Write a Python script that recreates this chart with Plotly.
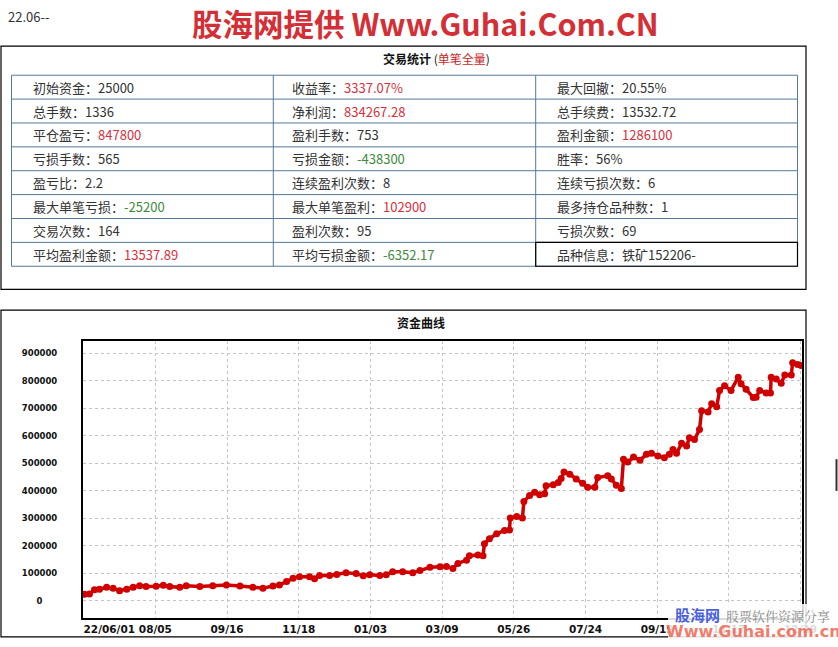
import plotly.graph_objects as go

# ---------------- data ----------------
header_text = "22.06--"
banner_text = "股海网提供 Www.Guhai.Com.CN"
table_title = "交易统计"
table_subtitle = "单笔全量"
chart_title = "资金曲线"

# statistic table: (label, value, tone)  tone: n = normal, r = red, g = green
stats_rows = [
    [("初始资金", "25000", "n"), ("收益率", "3337.07%", "r"), ("最大回撤", "20.55%", "n")],
    [("总手数", "1336", "n"), ("净利润", "834267.28", "r"), ("总手续费", "13532.72", "n")],
    [("平仓盈亏", "847800", "r"), ("盈利手数", "753", "n"), ("盈利金额", "1286100", "r")],
    [("亏损手数", "565", "n"), ("亏损金额", "-438300", "g"), ("胜率", "56%", "n")],
    [("盈亏比", "2.2", "n"), ("连续盈利次数", "8", "n"), ("连续亏损次数", "6", "n")],
    [("最大单笔亏损", "-25200", "g"), ("最大单笔盈利", "102900", "r"), ("最多持仓品种数", "1", "n")],
    [("交易次数", "164", "n"), ("盈利次数", "95", "n"), ("亏损次数", "69", "n")],
    [("平均盈利金额", "13537.89", "r"), ("平均亏损金额", "-6352.17", "g"), ("品种信息", "铁矿152206-", "n")],
]

# equity curve: bar index and equity value
bars = [1, 8, 15, 22, 32, 41, 50, 60, 69, 78, 87, 101, 111, 120, 134, 143, 162, 180, 199, 218,
        236, 250, 264, 273, 283, 292, 301, 315, 322, 329, 343, 353, 366, 380, 390, 399, 413, 422,
        431, 445, 459, 469, 483, 497, 506, 515, 522, 534, 538, 550, 557, 559, 566, 576, 587, 594,
        595, 604, 612, 614, 622, 629, 636, 643, 645, 655, 662, 666, 670, 678, 687, 696, 703, 713,
        717, 731, 736, 743, 750, 753, 759, 767, 776, 785, 792, 801, 810, 817, 822, 827, 834, 841,
        845, 852, 859, 862, 871, 876, 883, 887, 894, 903, 913, 917, 924, 934, 938, 943, 952, 958,
        959, 966, 973, 978, 987, 989, 996, 1001]
equity = [24000, 25000, 40000, 42000, 49000, 46000, 37000, 42000, 49000, 55000, 52000, 53000,
          57000, 52000, 49000, 55000, 52000, 55000, 58000, 54000, 49000, 46000, 54000, 58000,
          70000, 82000, 88000, 88000, 80000, 92000, 92000, 96000, 102000, 99000, 91000, 95000,
          92000, 95000, 106000, 106000, 102000, 110000, 122000, 124000, 125000, 118000, 136000,
          148000, 164000, 167000, 164000, 208000, 226000, 244000, 256000, 258000, 301000, 307000,
          301000, 361000, 383000, 395000, 386000, 390000, 419000, 422000, 431000, 445000, 469000,
          461000, 443000, 428000, 413000, 413000, 449000, 455000, 443000, 421000, 409000, 515000,
          505000, 523000, 512000, 533000, 537000, 527000, 521000, 533000, 551000, 537000, 573000,
          563000, 593000, 587000, 623000, 692000, 687000, 717000, 706000, 765000, 783000, 765000,
          814000, 790000, 770000, 740000, 741000, 765000, 756000, 756000, 814000, 807000, 792000,
          822000, 822000, 866000, 860000, 856000]

x_tick_vals = [0, 100, 200, 300, 400, 500, 600, 700, 800, 900, 1000]
x_tick_text = ["22/06/01", "08/05", "09/16", "11/18", "01/03", "03/09", "05/26", "07/24",
               "09/19", "11/17", "12/29"]
y_tick_vals = [0, 100000, 200000, 300000, 400000, 500000, 600000, 700000, 800000, 900000]
y_tick_text = ["0", "100000", "200000", "300000", "400000", "500000", "600000", "700000",
               "800000", "900000"]

# ---------------- layout geometry ----------------
W, H = 838, 647
PL, PR, PT, PB = 83, 802, 341, 620


def px(x):
    return (x - PL) / (PR - PL)


def py(y):
    return (PB - y) / (PB - PT)


RED = "#d6303e"
GREEN = "#3d8a3d"
CURVE = "#d00000"
CJK = "Noto Sans CJK SC"
NB = "\u00a0"

fig = go.Figure()
fig.add_trace(go.Scatter(
    x=bars, y=equity, mode="lines+markers",
    line=dict(color=CURVE, width=3.5),
    marker=dict(size=7, color=CURVE),
    hoverinfo="skip", showlegend=False,
))

ticktext_x = [("<b>" + (NB * 14 + t if i == 0 else t) + "</b>") for i, t in enumerate(x_tick_text)]
ticktext_y = [(t + NB * 5 if t == "0" else t) for t in y_tick_text]

shapes = []
annotations = []

# outer boxes
shapes.append(dict(type="rect", xref="paper", yref="paper", x0=px(1), x1=px(806), y0=py(289), y1=py(44),
                   line=dict(color="#000000", width=1.2), layer="below"))
shapes.append(dict(type="rect", xref="paper", yref="paper", x0=px(1), x1=px(806), y0=py(639), y1=py(310),
                   line=dict(color="#000000", width=1.2), layer="below"))

# table grid
tb_left, tb_right = 11.5, 797.5
tb_top, row_h = 73.3, 24.05
col_lines = [11.5, 273.3, 535.7, 797.5]
n_rows = len(stats_rows)
BLUE = "#53799b"
for i in range(n_rows + 1):
    yy = tb_top + i * row_h
    shapes.append(dict(type="line", xref="paper", yref="paper", x0=px(tb_left), x1=px(tb_right),
                       y0=py(yy), y1=py(yy), line=dict(color=BLUE, width=1)))
for xx in col_lines:
    shapes.append(dict(type="line", xref="paper", yref="paper", x0=px(xx), x1=px(xx),
                       y0=py(tb_top), y1=py(tb_top + n_rows * row_h), line=dict(color=BLUE, width=1)))
# last cell has a black border
shapes.append(dict(type="rect", xref="paper", yref="paper", x0=px(col_lines[2]), x1=px(col_lines[3]),
                   y0=py(tb_top + n_rows * row_h), y1=py(tb_top + (n_rows - 1) * row_h),
                   line=dict(color="#000000", width=1.2)))

text_x = [30.5, 289.5, 555.0]
for i, row in enumerate(stats_rows):
    yc = tb_top + (i + 0.5) * row_h
    for j, (lab, val, tone) in enumerate(row):
        if tone == "r":
            vs = f"<span style='color:{RED}'>{val}</span>"
        elif tone == "g":
            vs = f"<span style='color:{GREEN}'>{val}</span>"
        else:
            vs = val
        annotations.append(dict(x=px(text_x[j]), y=py(yc), xref="paper", yref="paper",
                                text=f"{lab}：{vs}", showarrow=False, xanchor="left", yanchor="middle",
                                font=dict(family=CJK, size=13, color="#333333")))

# titles
annotations.append(dict(x=px(436), y=py(56), xref="paper", yref="paper", showarrow=False,
                        text=f"<b>{table_title}</b> (<span style='color:#c81e1e'>{table_subtitle}</span>)",
                        xanchor="center", yanchor="middle", font=dict(family=CJK, size=12, color="#111111")))
annotations.append(dict(x=px(421), y=py(322), xref="paper", yref="paper", showarrow=False,
                        text=f"<b>{chart_title}</b>", xanchor="center", yanchor="middle",
                        font=dict(family=CJK, size=12, color="#111111")))

# header
annotations.append(dict(x=px(6), y=py(14), xref="paper", yref="paper", showarrow=False,
                        text=header_text, xanchor="left", yanchor="middle",
                        font=dict(family=CJK, size=13, color="#333333")))
annotations.append(dict(x=px(425), y=py(21), xref="paper", yref="paper", showarrow=False,
                        text=f"<b>{banner_text}</b>", xanchor="center", yanchor="middle",
                        font=dict(family=CJK, size=30.5, color="#d42f36")))

# bottom-right watermark
shapes.append(dict(type="rect", xref="paper", yref="paper", x0=px(668), x1=px(838), y0=py(647), y1=py(606),
                   fillcolor="rgba(255,255,255,0.85)", line=dict(width=0), layer="above"))
annotations.append(dict(x=px(673), y=py(616), xref="paper", yref="paper", showarrow=False,
                        text="<b>股海网</b>", xanchor="left", yanchor="middle",
                        font=dict(family=CJK, size=15, color="#4a5fe0")))
annotations.append(dict(x=px(724), y=py(617), xref="paper", yref="paper", showarrow=False,
                        text="股票软件资源分享", xanchor="left", yanchor="middle",
                        font=dict(family="Noto Serif CJK SC, " + CJK, size=13, color="#8a8a8a")))
annotations.append(dict(x=px(753), y=py(634), xref="paper", yref="paper", showarrow=False,
                        text="<b>Www.Guhai.com.cn</b>", xanchor="center", yanchor="middle",
                        font=dict(family="DejaVu Sans", size=16, color="rgba(240,100,80,0.85)")))

# small edge mark at the far right
shapes.append(dict(type="line", xref="paper", yref="paper", x0=px(836.5), x1=px(836.5), y0=py(460), y1=py(492),
                   line=dict(color="#333333", width=2)))

fig.update_layout(
    width=W, height=H,
    margin=dict(l=PL, r=W - PR, t=PT, b=H - PB, pad=0),
    paper_bgcolor="#ffffff", plot_bgcolor="#ffffff",
    shapes=shapes, annotations=annotations,
    showlegend=False,
    xaxis=dict(range=[-1, 1002], tickmode="array", tickvals=x_tick_vals, ticktext=ticktext_x,
               showgrid=True, gridcolor="#c4c4c4", griddash="dot", gridwidth=1,
               showline=True, linecolor="#000000", linewidth=2, mirror=True,
               zeroline=False, ticks="", tickangle=0, fixedrange=True,
               tickfont=dict(family="DejaVu Sans", size=10.5, color="#111111")),
    yaxis=dict(range=[-62500, 945500], tickmode="array", tickvals=y_tick_vals, ticktext=ticktext_y,
               showgrid=True, gridcolor="#c4c4c4", griddash="dot", gridwidth=1,
               showline=True, linecolor="#000000", linewidth=2, mirror=True,
               zeroline=False, ticks="", ticklabelstandoff=22, fixedrange=True,
               tickfont=dict(family="DejaVu Sans", size=8.5, color="#111111", weight="bold")),
)

fig.write_html("out.html",
               config={"displayModeBar": False, "staticPlot": True},
               post_script="document.body.style.margin='0';document.body.style.padding='0';"
                           "document.body.style.overflow='hidden';")
